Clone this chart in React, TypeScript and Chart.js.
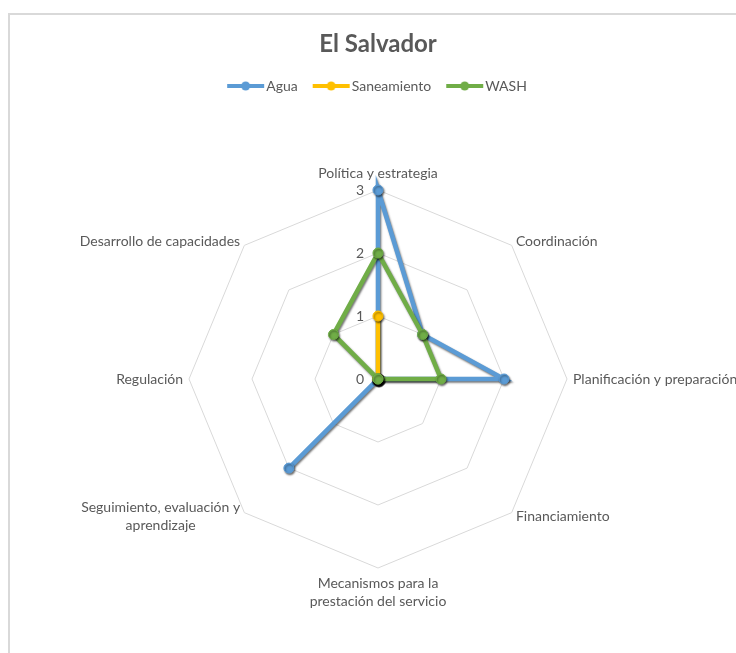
import React, { useEffect, useRef } from 'react';
import { Chart, registerables } from 'chart.js';

Chart.register(...registerables);

const TITLE = 'El Salvador';
const CATEGORIES: (string | string[])[] = [
  'Política y estrategia',
  'Coordinación',
  'Planificación y preparación',
  'Financiamiento',
  ['Mecanismos para la', 'prestación del servicio'],
  ['Seguimiento, evaluación y', 'aprendizaje'],
  'Regulación',
  'Desarrollo de capacidades',
];
const SERIES_NAMES = ['Agua', 'Saneamiento', 'WASH'];
const AGUA = [3, 1, 2, 0, 0, 2, 0, 0];
const SANEAMIENTO = [1, 0, 0, 0, 0, 0, 0, 0];
const WASH = [2, 1, 1, 0, 0, 0, 0, 1];
const SERIES_COLORS = ['#5B9BD5', '#FFC000', '#70AD47'];
const TICK_VALUES = [0, 1, 2, 3];

const TEXT_COLOR = '#595959';
const FONT_FAMILY = 'Lato, "Noto Sans", sans-serif';
const LABEL_SIZE = 14;

function makeMarker(color: string): HTMLCanvasElement {
  const c = document.createElement('canvas');
  c.width = 44;
  c.height = 12;
  const g = c.getContext('2d')!;
  g.strokeStyle = color;
  g.lineWidth = 4;
  g.beginPath();
  g.moveTo(5, 6);
  g.lineTo(42, 6);
  g.stroke();
  g.fillStyle = color;
  g.beginPath();
  g.arc(23.5, 6, 4.5, 0, Math.PI * 2);
  g.fill();
  return c;
}

const shadowPlugin = {
  id: 'seriesShadow',
  beforeDatasetDraw(chart: any) {
    const c = chart.ctx;
    c.save();
    c.shadowColor = 'rgba(0,0,0,0.55)';
    c.shadowBlur = 2;
    c.shadowOffsetX = 1;
    c.shadowOffsetY = 1.5;
  },
  afterDatasetDraw(chart: any) {
    chart.ctx.restore();
  },
};

const labelPlugin = {
  id: 'radarLabels',
  beforeDatasetsDraw(chart: any) {
    const scale = chart.scales.r;
    const ctx = chart.ctx;
    ctx.save();
    ctx.fillStyle = TEXT_COLOR;
    ctx.font = LABEL_SIZE + 'px ' + FONT_FAMILY;
    // tick labels, left of the vertical axis
    ctx.textAlign = 'right';
    ctx.textBaseline = 'middle';
    TICK_VALUES.forEach((v) => {
      const d = scale.getDistanceFromCenterForValue(v);
      ctx.fillText(String(v), scale.xCenter - 14, scale.yCenter - d);
    });
    // point labels
    const LH = 18;
    ctx.textAlign = 'center';
    CATEGORIES.forEach((lab, i) => {
      const lines = Array.isArray(lab) ? lab : [lab];
      const p = scale.getPointPosition(i, scale.drawingArea + 6);
      const dx = p.x - scale.xCenter;
      const dy = p.y - scale.yCenter;
      const maxW = Math.max(...lines.map((l) => ctx.measureText(l).width));
      let cx = p.x;
      if (dx > 1) cx = p.x + maxW / 2;
      else if (dx < -1) cx = p.x - maxW / 2;
      const blockH = lines.length * LH;
      let top: number;
      if (Math.abs(dx) <= 1) {
        top = dy < 0 ? p.y - 2 - blockH : p.y;
      } else {
        top = p.y - blockH / 2;
      }
      lines.forEach((l, k) => {
        ctx.fillText(l, cx, top + LH * k + LH / 2);
      });
    });
    ctx.restore();
  },
};

export default function App() {
  const ref = useRef<HTMLCanvasElement | null>(null);

  useEffect(() => {
    if (!ref.current) return;
    const markers = SERIES_COLORS.map(makeMarker);
    const seriesData = [AGUA, SANEAMIENTO, WASH];
    const chart = new Chart(ref.current, {
      type: 'radar',
      data: {
        labels: CATEGORIES as any,
        datasets: SERIES_NAMES.map((name, i) => ({
          label: name,
          data: seriesData[i],
          borderColor: SERIES_COLORS[i],
          backgroundColor: SERIES_COLORS[i],
          pointBackgroundColor: SERIES_COLORS[i],
          pointBorderColor: SERIES_COLORS[i],
          borderWidth: 4.5,
          pointRadius: 5,
          pointBorderWidth: 1,
          fill: false,
          tension: 0,
          clip: false as any,
          order: SERIES_NAMES.length - i,
        })),
      },
      options: {
        responsive: false,
        maintainAspectRatio: false,
        animation: false,
        layout: { padding: { left: 189, right: 189, top: 0, bottom: 24 } },
        plugins: {
          title: {
            display: true,
            text: TITLE,
            color: TEXT_COLOR,
            font: { family: FONT_FAMILY, size: 24, weight: 'bold', lineHeight: 1.2 },
            padding: { top: 29.6, bottom: 3.6 },
          },
          legend: {
            display: true,
            position: 'top',
            labels: {
              usePointStyle: true,
              pointStyleWidth: 30,
              padding: 17,
              color: TEXT_COLOR,
              font: { family: FONT_FAMILY, size: LABEL_SIZE },
              generateLabels: (ch: any) =>
                ch.data.datasets.map((ds: any, i: number) => ({
                  text: ds.label,
                  fillStyle: SERIES_COLORS[i],
                  strokeStyle: SERIES_COLORS[i],
                  lineWidth: 0,
                  pointStyle: markers[i],
                  hidden: false,
                  datasetIndex: i,
                  fontColor: TEXT_COLOR,
                })),
            },
          },
          tooltip: { enabled: false },
        },
        scales: {
          r: {
            min: 0,
            max: 3,
            startAngle: 0,
            ticks: { display: false, stepSize: 1 },
            pointLabels: { display: false },
            grid: { color: '#d9d9d9', lineWidth: 1 },
            angleLines: { display: false },
          },
        },
      },
      plugins: [shadowPlugin, labelPlugin],
    } as any);
    return () => chart.destroy();
  }, []);

  return (
    <div
      style={{
        position: 'fixed',
        left: 0,
        top: 0,
        width: 736,
        height: 653,
        overflow: 'hidden',
        background: '#ffffff',
      }}
    >
      <div
        style={{
          position: 'absolute',
          left: 8,
          top: 13,
          width: 900,
          height: 900,
          border: '2px solid #d9d9d9',
          boxSizing: 'border-box',
        }}
      />
      <canvas
        ref={ref}
        width={756}
        height={680}
        style={{ position: 'absolute', left: 0, top: 0, display: 'block' }}
      />
    </div>
  );
}
